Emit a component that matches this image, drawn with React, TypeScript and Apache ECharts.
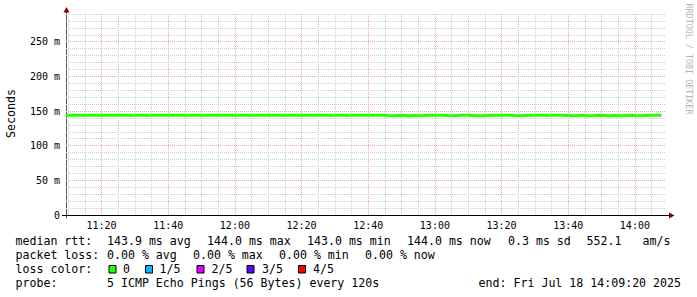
import React, { useEffect, useRef } from "react";
import * as echarts from "echarts";

// time axis in minutes since midnight
const START_MIN = 669 + 20 / 60; // 11:09:20
const END_MIN = 849 + 20 / 60; // 14:09:20
const FIRST_SAMPLE = 670; // 11:10:00
const STEP_MIN = 2; // every 120 s
const Y_MAX = 291.4;

const xMajorTicks = [680, 700, 720, 740, 760, 780, 800, 820, 840];
const yMajorTicks = [50, 100, 150, 200, 250];

// median rtt in ms, one per 120 s step (90 samples)
const medianRtt = [
  144.0, 144.0, 144.0, 144.0, 144.0, 144.0, 144.0, 144.0, 144.0, 144.0,
  144.0, 144.0, 144.0, 144.0, 144.0, 144.0, 144.0, 144.0, 144.0, 144.0,
  144.0, 144.0, 144.0, 144.0, 144.0, 144.0, 144.0, 144.0, 144.0, 144.0,
  144.0, 144.0, 144.0, 144.0, 144.0, 144.0, 144.0, 144.0, 144.0, 144.0,
  144.0, 144.0, 144.0, 144.0, 144.0, 144.0, 144.0, 144.0, 143.4, 143.3,
  144.0, 143.2, 143.5, 143.3, 144.0, 144.0, 144.0, 143.4, 143.3, 144.0,
  144.0, 143.3, 143.0, 143.4, 144.0, 144.0, 144.0, 143.5, 143.3, 144.0,
  144.0, 144.0, 144.0, 144.0, 144.0, 143.4, 143.3, 144.0, 143.3, 143.4,
  144.0, 143.2, 143.4, 143.3, 144.0, 143.4, 143.3, 144.0, 144.0, 144.0,
];

const legendRow1 = [
  { text: "median rtt:", x: 15.5 },
  { text: "143.9 ms avg", x: 107 },
  { text: "144.0 ms max", x: 207 },
  { text: "143.0 ms min", x: 307 },
  { text: "144.0 ms now", x: 407 },
  { text: "0.3 ms sd", x: 508 },
  { text: "552.1", x: 586.5 },
  { text: "am/s", x: 642.5 },
];
const legendRow2 = [
  { text: "packet loss:", x: 15.5 },
  { text: "0.00 % avg", x: 107 },
  { text: "0.00 % max", x: 193 },
  { text: "0.00 % min", x: 279 },
  { text: "0.00 % now", x: 365 },
];
const lossColors = [
  { label: "0", color: "#26ff00", box: 108.5, x: 123 },
  { label: "1/5", color: "#00b8ff", box: 145, x: 159.5 },
  { label: "2/5", color: "#dd00ff", box: 196.5, x: 211.5 },
  { label: "3/5", color: "#5e00ff", box: 246.5, x: 262 },
  { label: "4/5", color: "#ff0000", box: 298, x: 313 },
];
const probeText = "5 ICMP Echo Pings (56 Bytes) every 120s";
const endText = "end: Fri Jul 18 14:09:20 2025";

const FONT = '"DejaVu Sans Mono", monospace';

function fmtTime(v: number) {
  const h = Math.floor(v / 60);
  const m = Math.round(v - h * 60);
  return `${h}:${m < 10 ? "0" + m : m}`;
}

export default function App() {
  const ref = useRef<HTMLDivElement>(null);
  useEffect(() => {
    if (!ref.current) return;
    const chart = echarts.init(ref.current, null, { renderer: "svg" });

    const points: [number, number][] = [[START_MIN, medianRtt[0]]];
    medianRtt.forEach((v, i) => points.push([FIRST_SAMPLE + i * STEP_MIN, v]));

    const xMinor: number[] = [];
    for (let t = 670; t <= 845; t += 5) if (t % 20 !== 0) xMinor.push(t);
    const yMinor: number[] = [];
    for (let v = 10; v <= 290; v += 10) if (v % 50 !== 0 && v < Y_MAX) yMinor.push(v);

    const minorStyle = { color: "#cfcfcf", width: 1, type: [1, 1] as any };
    const majorStyle = { color: "#eeaaaa", width: 1, type: [1, 1] as any };

    const rowY = [241, 255, 269, 283];
    const txt = (text: string, x: number, y: number, extra: any = {}) => ({
      type: "text",
      style: {
        text,
        x,
        y,
        fill: "#000",
        font: `11.6px ${FONT}`,
        align: "left",
        verticalAlign: "middle",
        ...extra,
      },
      silent: true,
    });

    const graphics: any[] = [];
    legendRow1.forEach((it) => graphics.push(txt(it.text, it.x, rowY[0])));
    legendRow2.forEach((it) => graphics.push(txt(it.text, it.x, rowY[1])));
    graphics.push(txt("loss color:", 15.5, rowY[2]));
    lossColors.forEach((c) => {
      graphics.push({
        type: "rect",
        shape: { x: c.box + 0.5, y: 265.5, width: 7, height: 7.5 },
        style: { fill: c.color, stroke: "#000", lineWidth: 1 },
        silent: true,
      });
      graphics.push(txt(c.label, c.x, rowY[2]));
    });
    graphics.push(txt("probe:", 15.5, rowY[3]));
    graphics.push(txt(probeText, 107, rowY[3]));
    graphics.push(txt(endText, 681, rowY[3], { align: "right" }));
    // y axis title
    graphics.push({
      type: "text",
      x: 11,
      y: 113.5,
      rotation: Math.PI / 2,
      style: {
        text: "Seconds",
        font: `11.6px ${FONT}`,
        fill: "#000",
        align: "center",
        verticalAlign: "middle",
      },
      silent: true,
    });
    // watermark
    graphics.push({
      type: "text",
      x: 688.5,
      y: 59,
      rotation: -Math.PI / 2,
      style: {
        text: "RRDTOOL / TOBI OETIKER",
        font: `8.4px ${FONT}`,
        fill: "#b4b4b4",
        align: "center",
        verticalAlign: "middle",
      },
      silent: true,
    });
    // axis extensions and arrows
    graphics.push({
      type: "line",
      shape: { x1: 66.5, y1: 218.5, x2: 66.5, y2: 9 },
      style: { stroke: "#555", lineWidth: 1 },
      silent: true,
    });
    graphics.push({
      type: "line",
      shape: { x1: 62, y1: 215.5, x2: 670, y2: 215.5 },
      style: { stroke: "#000", lineWidth: 1 },
      silent: true,
    });
    graphics.push({
      type: "polygon",
      shape: { points: [[63.5, 12.5], [69.5, 12.5], [66.5, 7]] },
      style: { fill: "#7f0000" },
      silent: true,
    });
    graphics.push({
      type: "polygon",
      shape: { points: [[669, 212.5], [669, 218.5], [674.5, 215.5]] },
      style: { fill: "#7f0000" },
      silent: true,
    });

    chart.setOption({
      animation: false,
      backgroundColor: "#ffffff",
      grid: { left: 66, top: 13, width: 600, height: 202, containLabel: false },
      xAxis: {
        type: "value",
        min: START_MIN,
        max: END_MIN,
        splitNumber: 9,
        axisLine: { show: true, lineStyle: { color: "#000", width: 1 } },
        axisTick: { show: false },
        splitLine: { show: false },
        axisLabel: {
          customValues: xMajorTicks,
          formatter: (v: number) => (Math.abs(v % 20) < 1e-6 ? fmtTime(v) : ""),
          fontFamily: FONT,
          fontSize: 10,
          color: "#000",
          margin: 5,
        },
      },
      yAxis: {
        type: "value",
        min: 0,
        max: Y_MAX,
        interval: 50,
        axisLine: { show: true, lineStyle: { color: "#555", width: 1 } },
        axisTick: { show: false },
        splitLine: { show: false },
        axisLabel: {
          formatter: (v: number) =>
            v === 0 ? "0" : Math.abs(v % 50) < 1e-6 ? `${v} m` : "",
          fontFamily: FONT,
          fontSize: 10,
          color: "#000",
          margin: 6,
          showMaxLabel: false,
        },
      },
      series: [
        {
          type: "line",
          data: [],
          silent: true,
          markLine: {
            silent: true,
            symbol: "none",
            label: { show: false },
            animation: false,
            data: [
              ...xMinor.map((v) => ({ xAxis: v, lineStyle: minorStyle })),
              ...yMinor.map((v) => ({ yAxis: v, lineStyle: minorStyle })),
              ...xMajorTicks.map((v) => ({ xAxis: v, lineStyle: majorStyle })),
              ...yMajorTicks.map((v) => ({ yAxis: v, lineStyle: majorStyle })),
            ],
          },
        },
        {
          type: "line",
          z: 10,
          step: "start",
          data: points,
          symbol: "none",
          silent: true,
          lineStyle: { color: "#26ff00", width: 3, cap: "butt", join: "miter" },
        },
      ],
      graphic: graphics,
    });
    return () => chart.dispose();
  }, []);

  return (
    <div
      ref={ref}
      style={{ position: "fixed", left: 0, top: 0, width: 697, height: 297, background: "#fff" }}
    />
  );
}
